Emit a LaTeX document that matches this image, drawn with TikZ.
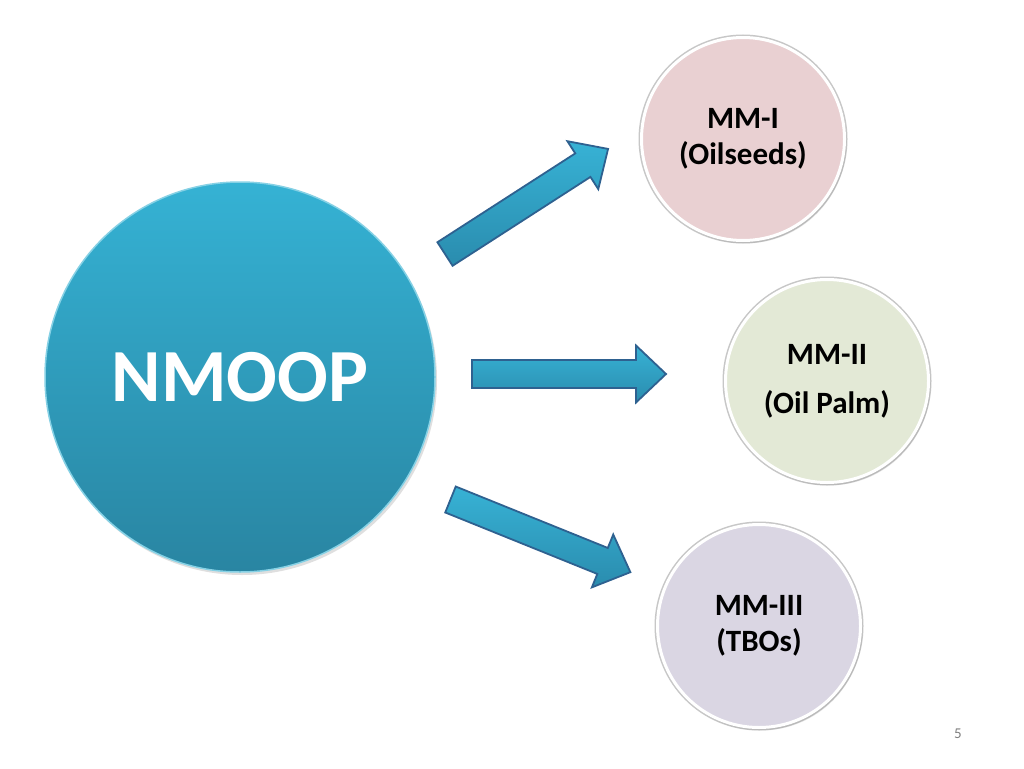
\documentclass[tikz,border=0pt]{standalone}
\usepackage{fontspec}
\setmainfont{Carlito}
\usetikzlibrary{shadows}
\definecolor{arrline}{HTML}{2E6190}
\definecolor{arrtop}{HTML}{37B2D5}
\definecolor{arrbot}{HTML}{2A8CAE}
\definecolor{bigtop}{HTML}{35B2D4}
\definecolor{bigbot}{HTML}{2985A2}
\definecolor{pinkfill}{HTML}{E9D0D2}
\definecolor{greenfill}{HTML}{E3E9D6}
\definecolor{lavfill}{HTML}{DAD6E3}
\tikzset{
  bigcirc/.style={circle, minimum size=390pt, inner sep=0pt,
    top color=bigtop, bottom color=bigbot, draw=bigtop!60!white, line width=1.5pt,
    drop shadow={opacity=0.25, shadow xshift=2pt, shadow yshift=-3pt},
    text=white, font=\bfseries\fontsize{75}{80}\selectfont},
  smallcirc/.style={circle, minimum size=203pt, inner sep=0pt, draw=white, line width=3pt,
    preaction={draw=black!22, line width=6pt},
    drop shadow={opacity=0.18, shadow xshift=2pt, shadow yshift=-3pt},
    align=center, text=black, font=\bfseries\fontsize{31}{36}\selectfont},
  blockarr/.style={draw=arrline, line width=1.8pt, line join=miter,
    top color=arrtop, bottom color=arrbot},
  pagenum/.style={text=black!50, font=\fontsize{15}{17}\selectfont}
}
\newcommand{\blockarrowpath}{(0,-14) -- (164,-14) -- (164,-28.5) -- (194,0) -- (164,28.5) -- (164,14) -- (0,14) -- cycle}
\begin{document}
\begin{tikzpicture}[x=1pt,y=-1pt]
\useasboundingbox[fill=white] (0,0) rectangle (1024,768);
\node[bigcirc] (nmoop) at (240,377) {NMOOP};
\node[smallcirc, fill=pinkfill] (mm1) at (743,139) {MM-I\\(Oilseeds)};
\node[smallcirc, fill=greenfill, font=\bfseries\fontsize{31}{49}\selectfont] (mm2) at (827,381) {MM-II\\(Oil Palm)};
\node[smallcirc, fill=lavfill] (mm3) at (759,626) {MM-III\\(TBOs)};
% block arrows from NMOOP towards each circle
\coordinate (a1) at (445,254);
\coordinate (a2) at (472,374);
\coordinate (a3) at (450.5,499.5);
\begin{scope}[shift={(a1)}, rotate=32.8]
  \path[blockarr] \blockarrowpath;
\end{scope}
\begin{scope}[shift={(a2)}]
  \path[blockarr] \blockarrowpath;
\end{scope}
\begin{scope}[shift={(a3)}, rotate=-22]
  \path[blockarr] \blockarrowpath;
\end{scope}
\node[pagenum] (pg) at (958,734) {5};
\end{tikzpicture}
\end{document}
